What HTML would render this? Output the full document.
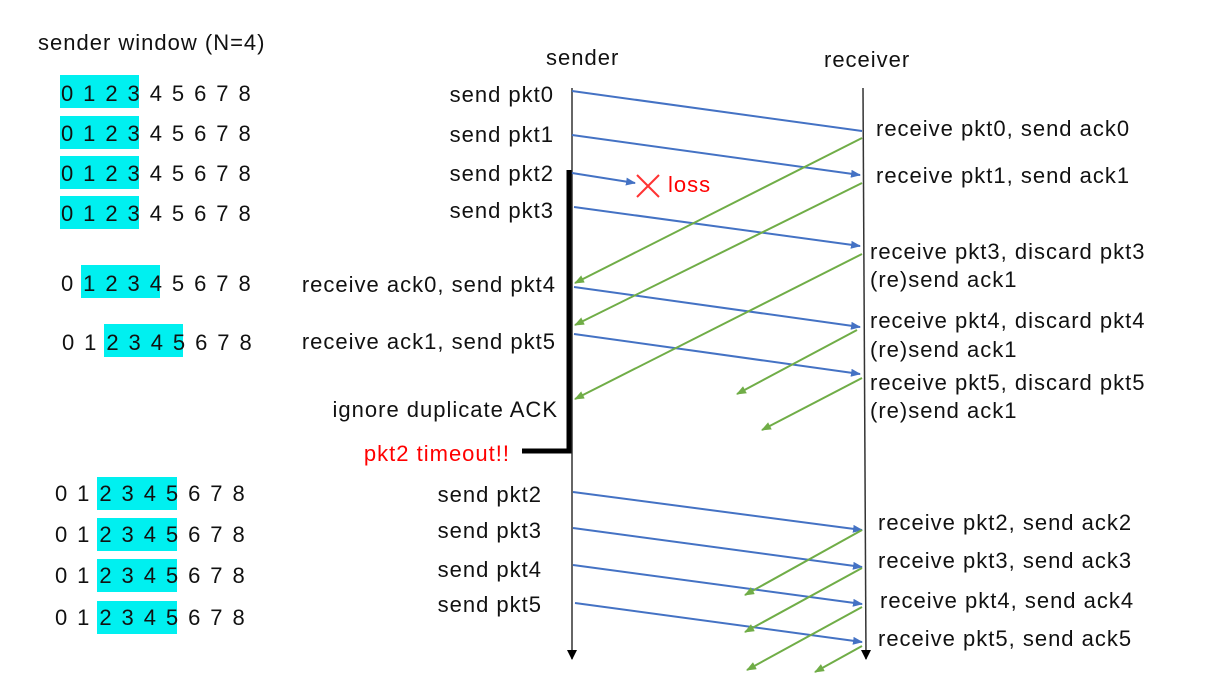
<!DOCTYPE html>
<html><head><meta charset="utf-8"><style>
body{margin:0;width:1220px;height:691px;background:#fff;position:relative;overflow:hidden;font-family:"Liberation Sans","NanumGothic",sans-serif;color:#111}
.t{position:absolute;font-size:22px;letter-spacing:1px;white-space:nowrap;line-height:24px}
.r{text-align:right}
.hl{position:absolute;background:#00f0f0;height:33px}
.row{position:absolute;font-size:22px;line-height:24px;display:flex}
.row span{display:inline-block;width:22.2px;text-align:center}
</style></head><body>
<div class="t" style="left:38px;top:31px">sender window (N=4)</div>

<div class="hl" style="left:60px;top:75px;width:79px"></div>
<div class="hl" style="left:60px;top:116px;width:79px"></div>
<div class="hl" style="left:60px;top:156px;width:79px"></div>
<div class="hl" style="left:60px;top:196px;width:79px"></div>
<div class="hl" style="left:81px;top:265px;width:79px"></div>
<div class="hl" style="left:104px;top:324px;width:79px"></div>
<div class="hl" style="left:97px;top:477px;width:80px"></div>
<div class="hl" style="left:97px;top:518px;width:80px"></div>
<div class="hl" style="left:97px;top:559px;width:80px"></div>
<div class="hl" style="left:97px;top:601px;width:80px"></div>

<div class="row" style="left:56px;top:82px"><span>0</span><span>1</span><span>2</span><span>3</span><span>4</span><span>5</span><span>6</span><span>7</span><span>8</span></div>
<div class="row" style="left:56px;top:122px"><span>0</span><span>1</span><span>2</span><span>3</span><span>4</span><span>5</span><span>6</span><span>7</span><span>8</span></div>
<div class="row" style="left:56px;top:162px"><span>0</span><span>1</span><span>2</span><span>3</span><span>4</span><span>5</span><span>6</span><span>7</span><span>8</span></div>
<div class="row" style="left:56px;top:202px"><span>0</span><span>1</span><span>2</span><span>3</span><span>4</span><span>5</span><span>6</span><span>7</span><span>8</span></div>
<div class="row" style="left:56px;top:272px"><span>0</span><span>1</span><span>2</span><span>3</span><span>4</span><span>5</span><span>6</span><span>7</span><span>8</span></div>
<div class="row" style="left:57px;top:331px"><span>0</span><span>1</span><span>2</span><span>3</span><span>4</span><span>5</span><span>6</span><span>7</span><span>8</span></div>
<div class="row" style="left:50px;top:482px"><span>0</span><span>1</span><span>2</span><span>3</span><span>4</span><span>5</span><span>6</span><span>7</span><span>8</span></div>
<div class="row" style="left:50px;top:523px"><span>0</span><span>1</span><span>2</span><span>3</span><span>4</span><span>5</span><span>6</span><span>7</span><span>8</span></div>
<div class="row" style="left:50px;top:564px"><span>0</span><span>1</span><span>2</span><span>3</span><span>4</span><span>5</span><span>6</span><span>7</span><span>8</span></div>
<div class="row" style="left:50px;top:606px"><span>0</span><span>1</span><span>2</span><span>3</span><span>4</span><span>5</span><span>6</span><span>7</span><span>8</span></div>

<div class="t" style="left:546px;top:46px">sender</div>
<div class="t" style="left:824px;top:48px">receiver</div>

<div class="t r" style="right:666px;top:83px">send pkt0</div>
<div class="t r" style="right:666px;top:123px">send pkt1</div>
<div class="t r" style="right:666px;top:162px">send pkt2</div>
<div class="t r" style="right:666px;top:199px">send pkt3</div>
<div class="t r" style="right:664px;top:273px">receive ack0, send pkt4</div>
<div class="t r" style="right:664px;top:330px">receive ack1, send pkt5</div>
<div class="t r" style="right:662px;top:398px">ignore duplicate ACK</div>
<div class="t r" style="right:710px;top:442px;color:#f00">pkt2 timeout!!</div>
<div class="t r" style="right:678px;top:483px">send pkt2</div>
<div class="t r" style="right:678px;top:519px">send pkt3</div>
<div class="t r" style="right:678px;top:558px">send pkt4</div>
<div class="t r" style="right:678px;top:593px">send pkt5</div>
<div class="t" style="left:668px;top:173px;color:#f00">loss</div>

<div class="t" style="left:876px;top:117px">receive pkt0, send ack0</div>
<div class="t" style="left:876px;top:164px">receive pkt1, send ack1</div>
<div class="t" style="left:870px;top:240px">receive pkt3, discard pkt3</div>
<div class="t" style="left:870px;top:268px">(re)send ack1</div>
<div class="t" style="left:870px;top:309px">receive pkt4, discard pkt4</div>
<div class="t" style="left:870px;top:338px">(re)send ack1</div>
<div class="t" style="left:870px;top:371px">receive pkt5, discard pkt5</div>
<div class="t" style="left:870px;top:399px">(re)send ack1</div>
<div class="t" style="left:878px;top:511px">receive pkt2, send ack2</div>
<div class="t" style="left:878px;top:549px">receive pkt3, send ack3</div>
<div class="t" style="left:880px;top:589px">receive pkt4, send ack4</div>
<div class="t" style="left:878px;top:627px">receive pkt5, send ack5</div>

<svg width="1220" height="691" style="position:absolute;left:0;top:0">
<defs>
<marker id="b" markerWidth="10" markerHeight="8" refX="9" refY="4" orient="auto" markerUnits="userSpaceOnUse"><path d="M0,0 L10,4 L0,8z" fill="#4472c4"/></marker>
<marker id="g" markerWidth="10" markerHeight="8" refX="9" refY="4" orient="auto" markerUnits="userSpaceOnUse"><path d="M0,0 L10,4 L0,8z" fill="#70ad47"/></marker>
<marker id="k" markerWidth="10" markerHeight="10" refX="5" refY="9" orient="0" markerUnits="userSpaceOnUse"><path d="M0,0 L10,0 L5,10z" fill="#000"/></marker>
</defs>
<line x1="572" y1="88" x2="572" y2="659" stroke="#333" stroke-width="1.5" marker-end="url(#k)"/>
<line x1="863" y1="88" x2="866" y2="659" stroke="#333" stroke-width="1.5" marker-end="url(#k)"/>
<polyline points="569,170 569,451 522,451" fill="none" stroke="#000" stroke-width="5"/>
<g stroke="#4472c4" stroke-width="2" fill="none">
<line x1="572" y1="91" x2="862" y2="131"/>
<line x1="572" y1="135" x2="860" y2="175" marker-end="url(#b)"/>
<line x1="572" y1="173" x2="635" y2="183" marker-end="url(#b)"/>
<line x1="574" y1="207" x2="860" y2="246" marker-end="url(#b)"/>
<line x1="574" y1="287" x2="860" y2="327" marker-end="url(#b)"/>
<line x1="574" y1="334" x2="860" y2="374" marker-end="url(#b)"/>
<line x1="573" y1="492" x2="862" y2="530" marker-end="url(#b)"/>
<line x1="573" y1="528" x2="862" y2="567" marker-end="url(#b)"/>
<line x1="573" y1="565" x2="862" y2="604" marker-end="url(#b)"/>
<line x1="575" y1="603" x2="862" y2="642" marker-end="url(#b)"/>
</g>
<g stroke="#70ad47" stroke-width="2" fill="none">
<line x1="862" y1="138" x2="575" y2="283" marker-end="url(#g)"/>
<line x1="862" y1="183" x2="575" y2="325" marker-end="url(#g)"/>
<line x1="862" y1="254" x2="575" y2="399" marker-end="url(#g)"/>
<line x1="857" y1="330" x2="737" y2="394" marker-end="url(#g)"/>
<line x1="862" y1="378" x2="762" y2="430" marker-end="url(#g)"/>
<line x1="862" y1="530" x2="745" y2="595" marker-end="url(#g)"/>
<line x1="862" y1="568" x2="745" y2="632" marker-end="url(#g)"/>
<line x1="862" y1="607" x2="747" y2="670" marker-end="url(#g)"/>
<line x1="862" y1="646" x2="815" y2="672" marker-end="url(#g)"/>
</g>
<g stroke="#f33" stroke-width="2"><line x1="637" y1="175" x2="659" y2="197"/><line x1="659" y1="175" x2="637" y2="197"/></g>
</svg>
</body></html>
